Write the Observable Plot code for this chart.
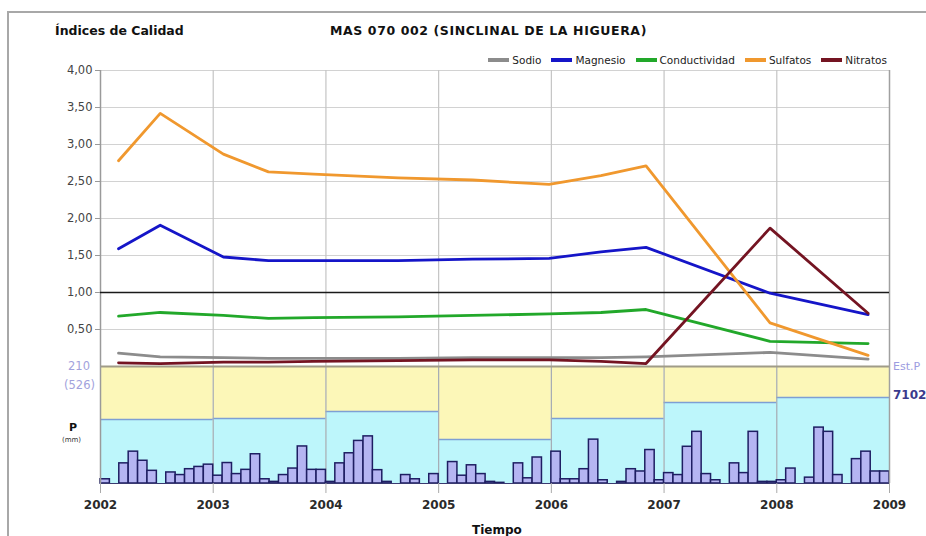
<!DOCTYPE html>
<html><head><meta charset="utf-8">
<script src="https://cdn.jsdelivr.net/npm/d3@7"></script>
<script src="https://cdn.jsdelivr.net/npm/@observablehq/plot@0.6"></script>
<style>
body{margin:0;background:#fff;}
#wrap{position:relative;width:926px;height:536px;overflow:hidden;font-family:"DejaVu Sans",sans-serif;background:#fff;}
#wrap svg{position:absolute;left:0;}
.abs{position:absolute;white-space:nowrap;line-height:1;}
#frame{position:absolute;left:7px;top:11px;width:940px;height:560px;border-left:2px solid #a8a8a8;border-top:2px solid #a8a8a8;}
#legend{position:absolute;right:39px;top:54px;display:flex;align-items:center;font-size:10.5px;color:#222;}
#legend .it{display:flex;align-items:center;margin-left:10px;}
#legend .sw{width:21px;height:4px;margin-right:3px;}
</style></head><body><div id="wrap"><div id="frame"></div></div>
<script>
// ---- data ----
const seriesNames = ["Sodio", "Magnesio", "Conductividad", "Sulfatos", "Nitratos"];
const seriesColors = ["#8c8c8c", "#1515c8", "#22a82a", "#f0982e", "#741422"];
// sampling dates (decimal years)
const sampleDates = [2002.16, 2002.53, 2003.09, 2003.49, 2003.89, 2004.64, 2005.30, 2005.98, 2006.44, 2006.84, 2007.94, 2008.81];
const sodio         = [0.18, 0.13, 0.12, 0.11, 0.11, 0.11, 0.12, 0.12, 0.12, 0.13, 0.19, 0.10];
const magnesio      = [1.59, 1.91, 1.48, 1.43, 1.43, 1.43, 1.45, 1.46, 1.55, 1.61, 0.99, 0.70];
const conductividad = [0.68, 0.73, 0.69, 0.65, 0.66, 0.67, 0.69, 0.71, 0.73, 0.77, 0.34, 0.31];
const sulfatos      = [2.78, 3.42, 2.87, 2.63, 2.60, 2.55, 2.52, 2.46, 2.58, 2.71, 0.59, 0.15];
const nitratos      = [0.05, 0.04, 0.06, 0.06, 0.07, 0.08, 0.09, 0.09, 0.07, 0.04, 1.87, 0.72];
const yTicks = [0.5, 1, 1.5, 2, 2.5, 3, 3.5, 4];
const years = [2002, 2003, 2004, 2005, 2006, 2007, 2008];
const xTicks = [2002, 2003, 2004, 2005, 2006, 2007, 2008, 2009];
// annual precipitation (mm)
const annualP = [492, 500, 554, 338, 500, 623, 662];
// monthly precipitation (mm)
const p2002 = [13, 0, 62, 98, 70, 39, 0, 34, 26, 44, 51, 58];
const p2003 = [24, 63, 29, 42, 90, 13, 5, 26, 46, 114, 42, 42];
const p2004 = [5, 62, 93, 131, 145, 41, 5, 0, 26, 13, 0, 29];
const p2005 = [0, 66, 24, 56, 29, 5, 2, 0, 62, 16, 80, 0];
const p2006 = [98, 13, 13, 44, 135, 10, 0, 5, 44, 37, 103, 10];
const p2007 = [32, 26, 113, 159, 29, 10, 0, 62, 32, 159, 5, 5];
const p2008 = [10, 46, 0, 18, 172, 159, 26, 0, 75, 98, 37, 37];
const panelMax = 900;     // annual scale top (mm)
const monthlyMax = 360;   // monthly scale top (mm)

// ---- tables ----
const seriesValues = [sodio, magnesio, conductividad, sulfatos, nitratos];
const lineData = seriesNames.flatMap((s, i) => sampleDates.map((t, j) => ({serie: s, t, v: seriesValues[i][j]})));
const annualData = years.map((y, i) => ({y, p: annualP[i]}));
const monthly = [p2002, p2003, p2004, p2005, p2006, p2007, p2008];
const monthData = years.flatMap((y, i) => monthly[i].map((mm, m) => ({y, m, mm}))).filter(d => d.mm > 0);
const scaleM = panelMax / monthlyMax;

const wrap = document.getElementById("wrap");
const fmt = d => d.toFixed(2).replace(".", ",");

const topPlot = Plot.plot({
  width: 926, height: 366, marginLeft: 100, marginRight: 37, marginTop: 70, marginBottom: 0,
  x: {domain: [2002, 2009], axis: null},
  y: {domain: [0, 4], axis: null},
  color: {domain: seriesNames, range: seriesColors},
  style: {fontFamily: "DejaVu Sans, sans-serif", background: "transparent"},
  marks: [
    Plot.ruleY(yTicks, {stroke: "#d2d2d2", strokeWidth: 1.2}),
    Plot.ruleX(years.slice(1), {stroke: "#c4c4c4", strokeWidth: 1.2}),
    Plot.ruleX([2002], {stroke: "#9a9a9a", strokeWidth: 1.5}),
    Plot.ruleX([2009], {stroke: "#a0a0a0", strokeWidth: 1.5}),
    Plot.axisY({ticks: yTicks, tickFormat: fmt, label: null, tickSize: 5, tickPadding: 3, fontSize: 11.5, fill: "#444", stroke: "#999", tickStroke: "#999"}),
    Plot.ruleY([1], {stroke: "#1a1a1a", strokeWidth: 1.6, x1: 2002, x2: 2009}),
    Plot.line(lineData, {x: "t", y: "v", z: "serie", stroke: "serie", strokeWidth: 2.8, strokeLinejoin: "round"})
  ]
});
topPlot.style.top = "0px";
wrap.appendChild(topPlot);

const lowPlot = Plot.plot({
  width: 926, height: 170, marginLeft: 100, marginRight: 37, marginTop: 0, marginBottom: 53,
  x: {domain: [2002, 2009], axis: null},
  y: {domain: [0, panelMax], axis: null},
  style: {fontFamily: "DejaVu Sans, sans-serif", background: "transparent", overflow: "visible"},
  marks: [
    Plot.rect(years, {x1: d => d, x2: d => d + 1, y1: 0, y2: panelMax, fill: "#fcf7b8"}),
    Plot.rectY(annualData, {x1: "y", x2: d => d.y + 1, y: "p", fill: "#bdf6fb"}),
    Plot.ruleY(annualData, {x1: "y", x2: d => d.y + 1, y: "p", stroke: "#7e9fd4", strokeWidth: 1.5}),
    Plot.ruleX(years.slice(1), {stroke: "#a4aab4", strokeWidth: 1.2}),
    Plot.rectY(monthData, {x1: d => d.y + d.m / 12, x2: d => d.y + (d.m + 1) / 12, y: d => d.mm * scaleM, fill: "#b5b5f2", stroke: "#1e1e62", strokeWidth: 1.5}),
    Plot.ruleY([0], {stroke: "#3a3a70", strokeWidth: 1.2}),
    Plot.ruleY([panelMax], {stroke: "#a09c88", strokeWidth: 2}),
    Plot.ruleX([2002], {stroke: "#9a9a9a", strokeWidth: 1.5}),
    Plot.ruleX([2009], {stroke: "#a0a0a0", strokeWidth: 1.5}),
    Plot.axisX({ticks: xTicks, tickFormat: "d", label: null, tickSize: 10, tickPadding: 7, fontSize: 12, fontWeight: "bold", fill: "#2a2a2a", stroke: "#aaa", tickStroke: "#aaa"})
  ]
});
lowPlot.style.top = "366px";
wrap.appendChild(lowPlot);

// ---- texts ----
function addText(txt, css) {
  const d = document.createElement("div");
  d.className = "abs";
  d.textContent = txt;
  Object.assign(d.style, css);
  wrap.appendChild(d);
  return d;
}
addText("Índices de Calidad", {left: "55px", top: "25px", fontSize: "12.5px", fontWeight: "bold", color: "#111"});
addText("MAS 070 002 (SINCLINAL DE LA HIGUERA)", {left: "330px", top: "25px", fontSize: "12.5px", fontWeight: "bold", color: "#111", letterSpacing: "0.6px"});
addText("210", {right: "836px", top: "361px", fontSize: "11.5px", color: "#a2a2dc"});
addText("(526)", {right: "831px", top: "380px", fontSize: "11.5px", color: "#a2a2dc"});
addText("P", {left: "69px", top: "422px", fontSize: "11px", fontWeight: "bold", color: "#111"});
addText("(mm)", {left: "62px", top: "437px", fontSize: "7px", color: "#333"});
addText("Est.P", {left: "893px", top: "361px", fontSize: "11px", color: "#9c9ce0"});
addText("7102", {left: "893px", top: "389px", fontSize: "12px", fontWeight: "bold", color: "#3a3a8c"});
addText("Tiempo", {left: "472px", top: "524px", fontSize: "12px", fontWeight: "bold", color: "#111"});

const legend = document.createElement("div");
legend.id = "legend";
seriesNames.forEach((s, i) => {
  const it = document.createElement("div");
  it.className = "it";
  const sw = document.createElement("div");
  sw.className = "sw";
  sw.style.background = seriesColors[i];
  const lb = document.createElement("span");
  lb.textContent = s;
  it.appendChild(sw); it.appendChild(lb);
  legend.appendChild(it);
});
wrap.appendChild(legend);
</script></body></html>
